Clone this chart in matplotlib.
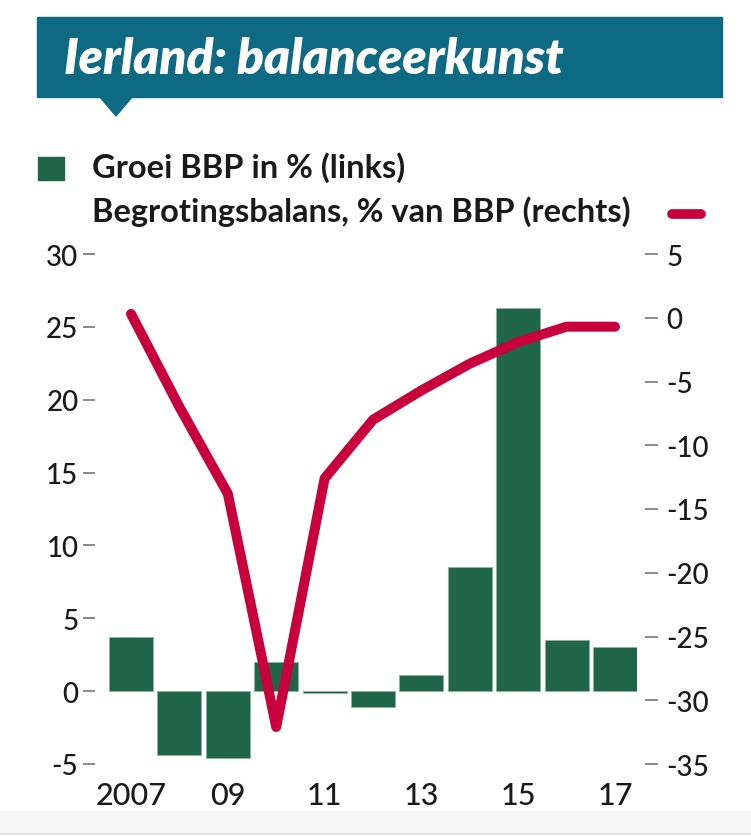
import numpy as np
import matplotlib.pyplot as plt
from matplotlib.patches import Rectangle, Polygon
from matplotlib.lines import Line2D

years = [2007, 2008, 2009, 2010, 2011, 2012, 2013, 2014, 2015, 2016, 2017]
groei_bbp = [3.7, -4.4, -4.6, 2.0, -0.1, -1.1, 1.1, 8.5, 26.3, 3.5, 3.0]
begroting = [0.3, -7.0, -13.8, -32.1, -12.6, -8.0, -5.7, -3.6, -1.9, -0.7, -0.7]
xtick_years = [2007, 2009, 2011, 2013, 2015, 2017]
xtick_labels = ['2007', '09', '11', '13', '15', '17']

teal = '#0e6a83'
green = '#1e6549'
red = '#c8003c'
ink = '#1a1a1a'

plt.rcParams['font.family'] = ['Lato', 'DejaVu Sans']
plt.rcParams['axes.unicode_minus'] = False

W, H = 751, 837
fig = plt.figure(figsize=(W / 100, H / 100), dpi=100)

def fx(px):
    return px / W

def fy(py):
    return 1 - py / H

# banner
fig.patches.append(Rectangle((fx(37), fy(98)), fx(722) - fx(37), fy(18) - fy(98),
                             transform=fig.transFigure, color=teal, zorder=0))
fig.patches.append(Polygon([(fx(99), fy(97)), (fx(133), fy(97)), (fx(116), fy(117))],
                           closed=True, transform=fig.transFigure, color=teal, zorder=0))
fig.text(fx(64), fy(60), 'Ierland: balanceerkunst', color='white', fontsize=35.5,
         fontweight='heavy', fontstyle='italic', va='center', ha='left')

# legend
fig.patches.append(Rectangle((fx(38), fy(181)), fx(64) - fx(38), fy(158) - fy(181),
                             transform=fig.transFigure, color=green))
fig.text(fx(92), fy(168), 'Groei BBP in % (links)', color=ink, fontsize=23.5,
         fontweight='bold', va='center', ha='left')
fig.text(fx(92), fy(212), 'Begrotingsbalans, % van BBP (rechts)', color=ink, fontsize=23.5,
         fontweight='bold', va='center', ha='left')
fig.lines.append(Line2D([fx(672), fx(701)], [fy(215), fy(215)], transform=fig.transFigure,
                        color=red, linewidth=7, solid_capstyle='round'))

# footer band
fig.patches.append(Rectangle((0, fy(835)), 1, fy(812) - fy(835), transform=fig.transFigure,
                             color='#f6f6f6', zorder=0))
fig.lines.append(Line2D([0, 1], [fy(835), fy(835)], transform=fig.transFigure,
                        color='#dcdcdc', linewidth=1.2))

ax = fig.add_axes([fx(109), fy(765), fx(637) - fx(109), fy(255) - fy(765)])
ax2 = ax.twinx()

ax.bar(years, groei_bbp, width=0.91, color=green, edgecolor='#8fb3a2', linewidth=0.6, zorder=1)
ax2.plot(years, begroting, color=red, linewidth=7.2, solid_capstyle='round',
         solid_joinstyle='round', zorder=3)

ax.set_xlim(2007 - 0.455, 2017 + 0.455)
ax.set_ylim(-5, 30)
ax2.set_ylim(-35, 5)
ax.set_yticks(range(-5, 31, 5))
ax2.set_yticks(range(-35, 6, 5))
ax.set_xticks(xtick_years)
ax.set_xticklabels(xtick_labels)

for a in (ax, ax2):
    for s in a.spines.values():
        s.set_visible(False)
    a.patch.set_visible(False)

ax.spines['left'].set_position(('outward', 10))
ax2.spines['right'].set_position(('outward', 6))

ax.tick_params(axis='y', length=9, width=1.2, color='#777777', pad=3,
               labelsize=20, labelcolor=ink)
ax2.tick_params(axis='y', length=9, width=1.2, color='#777777', pad=6,
                labelsize=20, labelcolor=ink)
ax.tick_params(axis='x', length=0, pad=12, labelsize=22, labelcolor=ink)
for lab in ax.get_yticklabels() + ax2.get_yticklabels() + ax.get_xticklabels():
    lab.set_fontweight('medium')

ax2.set_zorder(ax.get_zorder() + 1)

fig.savefig('out.png', dpi=100)
